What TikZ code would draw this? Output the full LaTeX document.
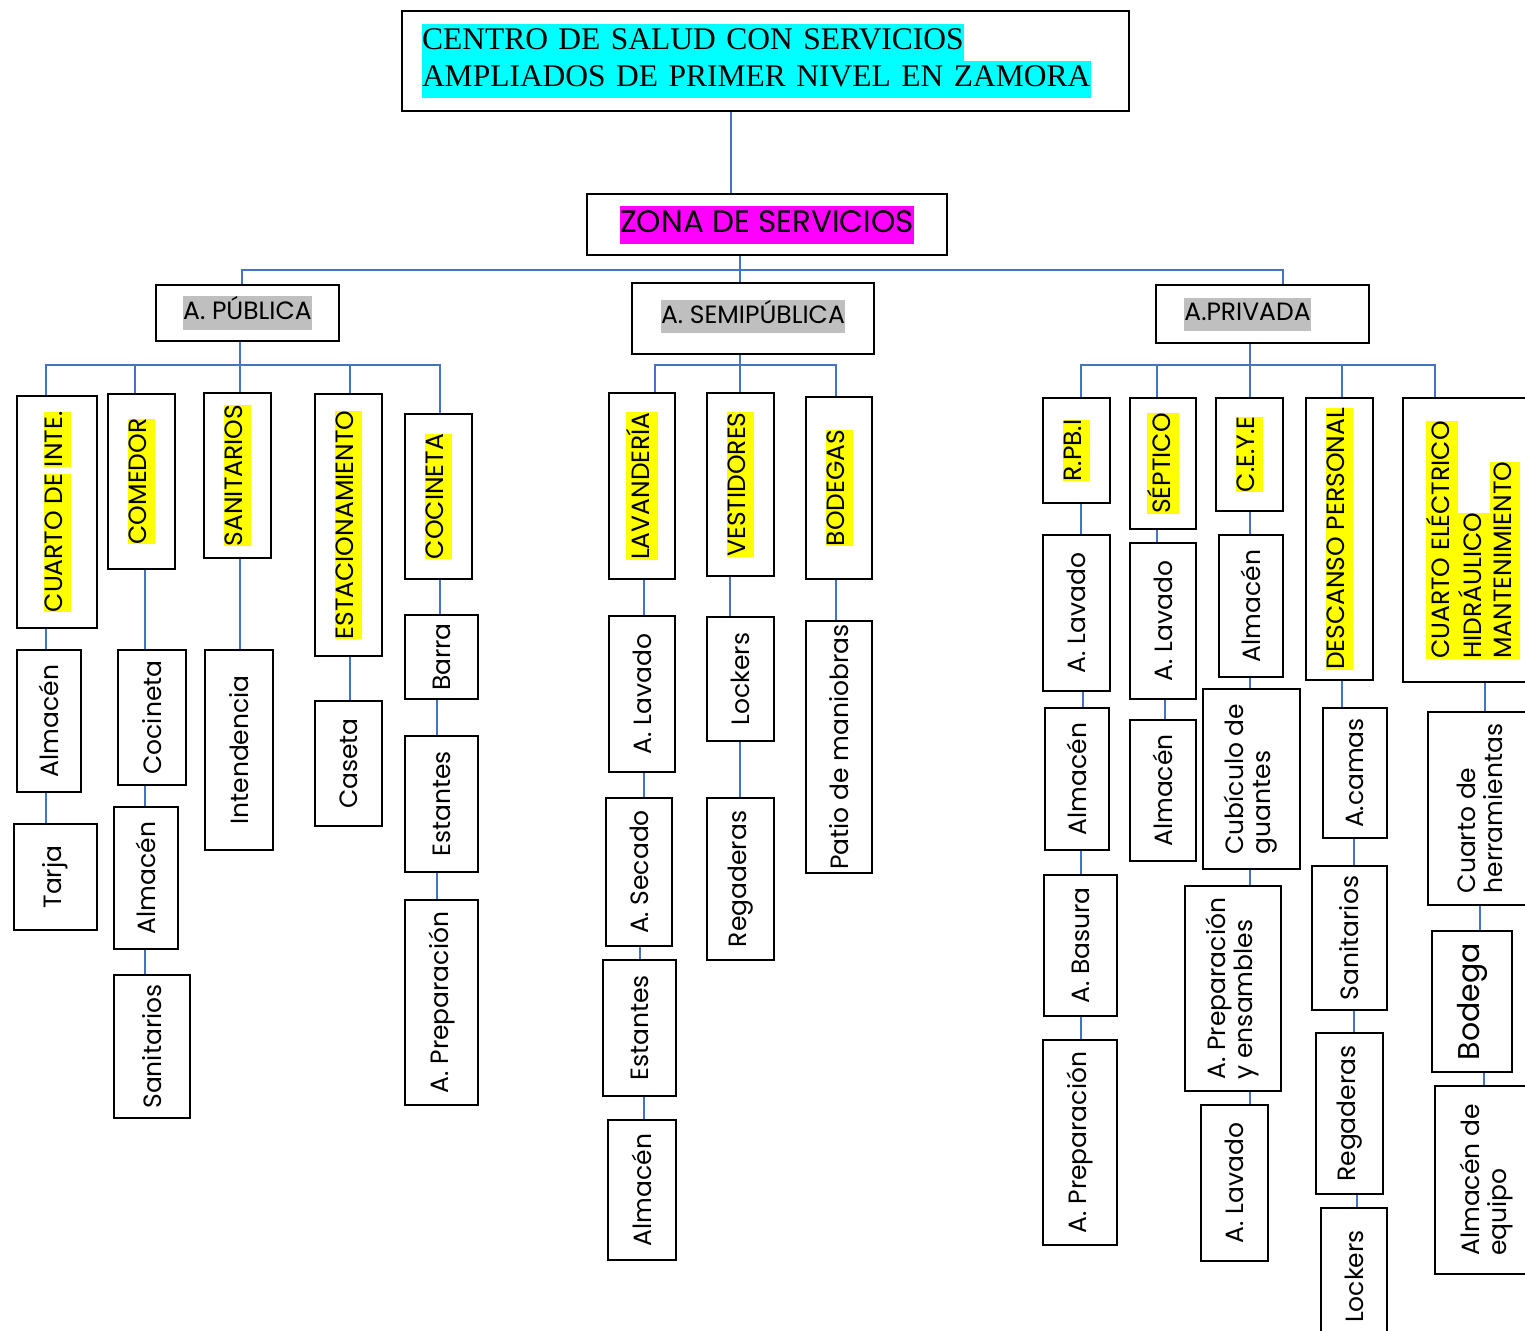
\documentclass[tikz,border=0pt]{standalone}
\usepackage{fontspec}
\usepackage{graphicx}
\usepackage{xcolor}
\usepackage{tikz}
\setmainfont{Liberation Serif}
\newfontfamily\gothic{Poppins}
\definecolor{lineablue}{RGB}{68,114,196}
\definecolor{resaltecian}{RGB}{0,255,255}
\definecolor{resaltemagenta}{RGB}{255,0,255}
\definecolor{resaltegris}{RGB}{191,191,191}
\definecolor{resalteamarillo}{RGB}{255,255,0}
\setlength{\fboxsep}{0pt}

\tikzset{
  caja/.style={draw, line width=2.2pt, inner sep=0pt, font=\gothic\fontsize{25}{27}\selectfont},
  encabezado/.style={caja, font=\gothic\fontsize{25}{33}\selectfont},
  liga/.style={draw=lineablue, line width=1.8pt},
}
\newcommand{\amarillo}[1]{\colorbox{resalteamarillo}{\strut #1}}
\newcommand{\gris}[1]{\colorbox{resaltegris}{\strut #1}}
\newcommand{\vtexto}[1]{\rotatebox{90}{#1}}
\newcommand{\vdos}[2]{\rotatebox{90}{\begin{tabular}{@{}l@{}}#1\\#2\end{tabular}}}

\begin{document}
\begin{tikzpicture}[x=1pt, y=-1pt]
% Fix the page to the reference frame
\useasboundingbox (0,0) rectangle (1525,1330);
\clip (0,0) rectangle (1525,1330);

% Title and zone
\node[caja, line width=2pt, minimum width=727, minimum height=100, text width=687, align=left, font=\fontsize{31.5}{37}\selectfont] (titulo) at (765.5,61)
  {\colorbox{resaltecian}{\strut CENTRO DE SALUD CON SERVICIOS}\\\colorbox{resaltecian}{\strut AMPLIADOS DE PRIMER NIVEL EN ZAMORA}};
\node[caja, minimum width=360, minimum height=61, font=\gothic\fontsize{31}{38}\selectfont] (zona) at (767,224.5) {\colorbox{resaltemagenta}{\strut ZONA DE SERVICIOS}};

% The three areas
\node[encabezado, minimum width=183, minimum height=56] (publica) at (247.5,313) {\gris{A. PÚBLICA}};
\node[encabezado, minimum width=242, minimum height=71] (semi) at (753,318.5) {\gris{A. SEMIPÚBLICA}\rule[-14pt]{0pt}{14pt}};
\node[encabezado, minimum width=213, minimum height=58] (privada) at (1262.5,314) {\gris{A.PRIVADA}\hspace*{30pt}};

% A. publica
\node[caja, minimum width=80, minimum height=232] (cuarto) at (57,512) {\vtexto{\amarillo{CUARTO DE} \amarillo{INTE.}}};
\node[caja, minimum width=64, minimum height=142] (almA) at (49,721) {\vtexto{Almacén}};
\node[caja, minimum width=83, minimum height=106] (tarja) at (55.5,877) {\vtexto{Tarja}};
\node[caja, minimum width=67, minimum height=175] (comedor) at (141.5,481.5) {\vtexto{\amarillo{COMEDOR}}};
\node[caja, minimum width=68, minimum height=135] (cocinetaB) at (152,717.5) {\vtexto{Cocineta}};
\node[caja, minimum width=64, minimum height=142] (almB) at (146,878) {\vtexto{Almacén}};
\node[caja, minimum width=76, minimum height=143] (sanitB) at (152,1046.5) {\vtexto{Sanitarios}};
\node[caja, minimum width=67, minimum height=165] (sanit) at (237.5,475.5) {\vtexto{\amarillo{SANITARIOS}}};
\node[caja, minimum width=68, minimum height=200] (intend) at (239,750) {\vtexto{Intendencia}};
\node[caja, minimum width=67, minimum height=262] (estac) at (348.5,525) {\vtexto{\amarillo{ESTACIONAMIENTO}}};
\node[caja, minimum width=67, minimum height=125] (caseta) at (348.5,763.5) {\vtexto{Caseta}};
\node[caja, minimum width=67, minimum height=165] (cocin) at (438.5,496.5) {\vtexto{\amarillo{COCINETA}}};
\node[caja, minimum width=73, minimum height=84] (barra) at (441.5,657) {\vtexto{Barra}};
\node[caja, minimum width=73, minimum height=136] (estA) at (441.5,804) {\vtexto{Estantes}};
\node[caja, minimum width=73, minimum height=205] (prepA) at (441.5,1002.5) {\vtexto{A. Preparación}};

% A. semipublica
\node[caja, minimum width=66, minimum height=186] (lav) at (642,486) {\vtexto{\amarillo{LAVANDERÍA}}};
\node[caja, minimum width=66, minimum height=156] (lavado) at (642,694) {\vtexto{A. Lavado}};
\node[caja, minimum width=66, minimum height=148] (secado) at (639,872) {\vtexto{A. Secado}};
\node[caja, minimum width=73, minimum height=136] (estB) at (639.5,1028) {\vtexto{Estantes}};
\node[caja, minimum width=68, minimum height=140] (almC) at (642,1190) {\vtexto{Almacén}};
\node[caja, minimum width=67, minimum height=183] (vest) at (740.5,484.5) {\vtexto{\amarillo{VESTIDORES}}};
\node[caja, minimum width=67, minimum height=124] (lockA) at (740.5,679) {\vtexto{Lockers}};
\node[caja, minimum width=67, minimum height=162] (regA) at (740.5,879) {\vtexto{Regaderas}};
\node[caja, minimum width=66, minimum height=182] (bodegas) at (839,488) {\vtexto{\amarillo{BODEGAS}}};
\node[caja, minimum width=66, minimum height=252] (patio) at (839,747) {\vtexto{Patio de maniobras}};

% A. privada
\node[caja, minimum width=67, minimum height=105] (rpbi) at (1076.5,450.5) {\vtexto{\amarillo{R.PB.I}}};
\node[caja, minimum width=67, minimum height=156] (lavB) at (1076.5,613) {\vtexto{A. Lavado}};
\node[caja, minimum width=64, minimum height=142] (almD) at (1077,779) {\vtexto{Almacén}};
\node[caja, minimum width=73, minimum height=141] (basura) at (1080.5,945.5) {\vtexto{A. Basura}};
\node[caja, minimum width=74, minimum height=205] (prepB) at (1080,1142.5) {\vtexto{A. Preparación}};
\node[caja, minimum width=66, minimum height=131] (septico) at (1163,463.5) {\vtexto{\amarillo{SÉPTICO}}};
\node[caja, minimum width=66, minimum height=156] (lavC) at (1163,621) {\vtexto{A. Lavado}};
\node[caja, minimum width=66, minimum height=141] (almE) at (1163,790.5) {\vtexto{Almacén}};
\node[caja, minimum width=67, minimum height=113] (ceye) at (1249.5,454.5) {\vtexto{\amarillo{C.E.Y.E}}};
\node[caja, minimum width=64, minimum height=142] (almF) at (1251,606) {\vtexto{Almacén}};
\node[caja, minimum width=97, minimum height=180] (cubic) at (1251.5,779) {\vdos{Cubículo de}{guantes}};
\node[caja, minimum width=96, minimum height=205] (prepC) at (1233,988.5) {\vdos{A. Preparación}{y ensambles}};
\node[caja, minimum width=67, minimum height=156] (lavD) at (1234.5,1183) {\vtexto{A. Lavado}};
\node[caja, minimum width=67, minimum height=282] (desc) at (1339.5,539) {\vtexto{\amarillo{DESCANSO PERSONAL}}};
\node[caja, minimum width=64, minimum height=130] (camas) at (1355,773) {\vtexto{A.camas}};
\node[caja, minimum width=75, minimum height=144] (sanitC) at (1349.5,938) {\vtexto{Sanitarios}};
\node[caja, minimum width=67, minimum height=161] (regB) at (1349.5,1113.5) {\vtexto{Regaderas}};
\node[caja, minimum width=66, minimum height=137] (lockB) at (1354,1276.5) {\vtexto{Lockers}};
\node[caja, minimum width=140, minimum height=284, font=\gothic\fontsize{25}{30}\selectfont] (electrico) at (1473,540)
  {\rotatebox{90}{\begin{tabular}{@{}l@{}}\amarillo{CUARTO ELÉCTRICO}\\\amarillo{HIDRÁULICO}\\\amarillo{MANTENIMIENTO}\end{tabular}}};
\node[caja, minimum width=112, minimum height=193] (herram) at (1484,808.5) {\vdos{Cuarto de}{herramientas}};
\node[caja, minimum width=80, minimum height=141, font=\gothic\fontsize{30}{32}\selectfont] (bodega) at (1472,1001.5) {\vtexto{Bodega}};
\node[caja, minimum width=105, minimum height=188] (equipo) at (1487.5,1180) {\vdos{Almacén de}{equipo}};

% Trunk and buses
\draw[liga] (titulo.south -| 731,0) -- (zona.north -| 731,0);
\draw[liga] (zona.south -| 740,0) -- (semi.north -| 740,0);
\draw[liga] (publica.north -| 242,0) -- ++(0,-14) -| (privada.north -| 1283,0);
\draw[liga] (publica.south -| 240,0) -- (sanit.north -| 240,0);
\draw[liga] (cuarto.north -| 46,0) -- ++(0,-30) -| (cocin.north -| 440,0);
\draw[liga] (comedor.north -| 135,0) -- ++(0,-28);
\draw[liga] (estac.north -| 350,0) -- ++(0,-28);
\draw[liga] (semi.south -| 740,0) -- (vest.north -| 740,0);
\draw[liga] (lav.north -| 655,0) -- ++(0,-27) -| (bodegas.north -| 836,0);
\draw[liga] (privada.south -| 1250,0) -- (ceye.north -| 1250,0);
\draw[liga] (rpbi.north -| 1081,0) -- ++(0,-32) -| (electrico.north -| 1435,0);
\draw[liga] (septico.north -| 1157,0) -- ++(0,-32);
\draw[liga] (desc.north -| 1342,0) -- ++(0,-32);

% Chains of rooms
\foreach \arriba/\abajo/\x in {cuarto/almA/46, almA/tarja/46,
    comedor/cocinetaB/145, cocinetaB/almB/145, almB/sanitB/145,
    sanit/intend/240, estac/caseta/350,
    cocin/barra/440, barra/estA/437, estA/prepA/437,
    lav/lavado/644, lavado/secado/644, secado/estB/640, estB/almC/644,
    vest/lockA/730, lockA/regA/740, bodegas/patio/836,
    rpbi/lavB/1081, lavB/almD/1083, almD/basura/1081, basura/prepB/1081,
    septico/lavC/1157, lavC/almE/1165,
    ceye/almF/1250, almF/cubic/1250, cubic/prepC/1250, prepC/lavD/1250,
    desc/camas/1342, camas/sanitC/1354, sanitC/regB/1354, regB/lockB/1357,
    electrico/herram/1485, herram/bodega/1480, bodega/equipo/1484}
  \draw[liga] (\arriba.south -| \x,0) -- (\abajo.north -| \x,0);
\end{tikzpicture}
\end{document}
